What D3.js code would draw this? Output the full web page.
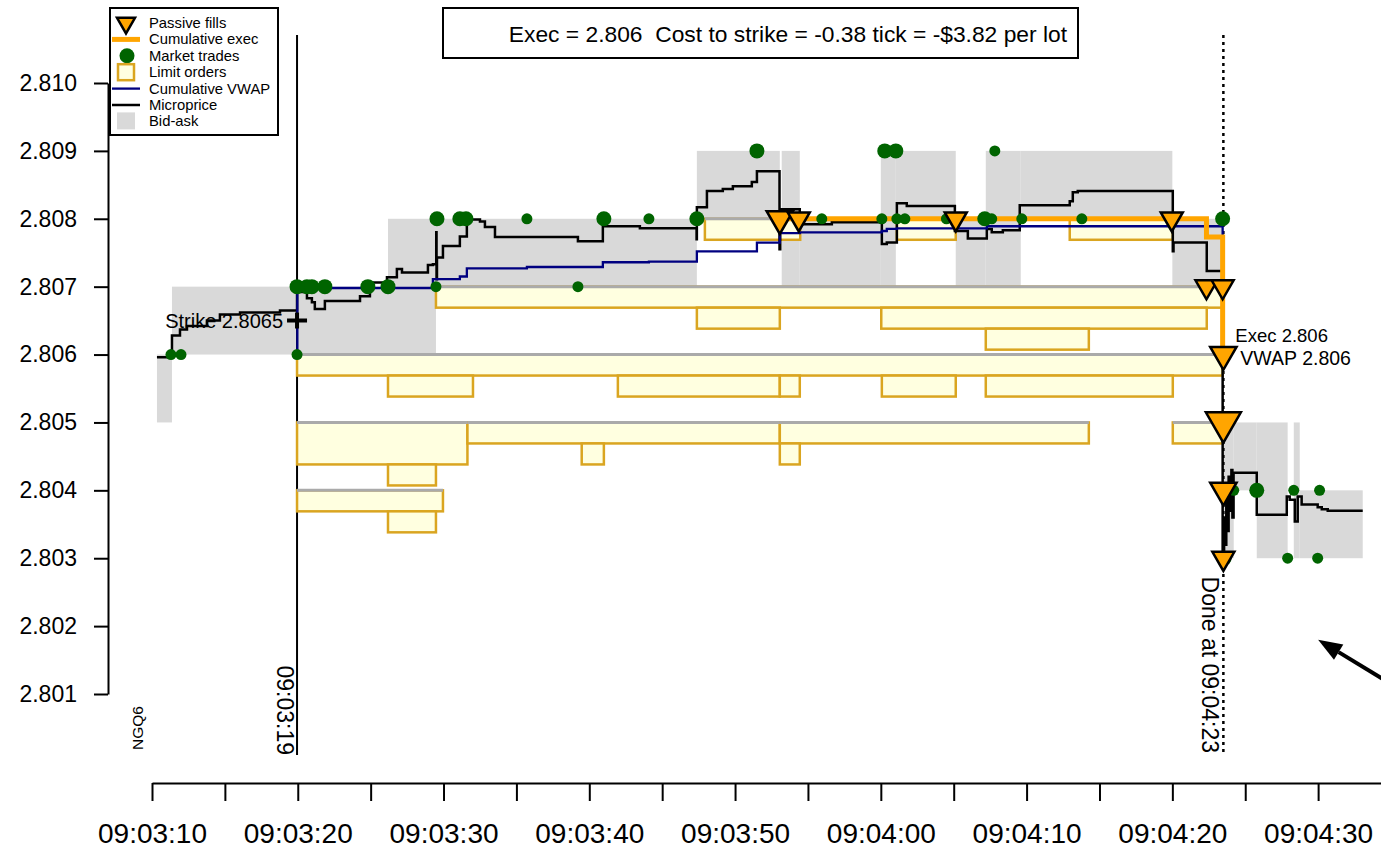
<!DOCTYPE html>
<html>
<head>
<meta charset="utf-8">
<script src="https://cdn.jsdelivr.net/npm/d3@7"></script>
<style>
body { margin: 0; background: #fff; }
text { font-family: "Liberation Sans", Arial, Helvetica, sans-serif; fill: #000; white-space: pre; }
</style>
</head>
<body>
<svg width="1381" height="852"></svg>
<script>
// all times are seconds after 09:03:00
const base = new Date(2016, 5, 20, 9, 3, 0);
const T = s => new Date(base.getTime() + s * 1000);

// bid-ask spells
const quoteStart = [10.34, 11.37, 26.19, 29.48, 47.38, 53.20, 54.44, 60.00, 61.03, 65.14, 67.20, 69.60, 80.00, 83.50, 84.21, 85.79, 88.33, 88.74];
const quoteEnd   = [11.37, 26.19, 29.48, 47.38, 53.07, 54.44, 60.00, 61.03, 65.14, 67.20, 69.60, 80.00, 83.45, 84.21, 85.79, 87.91, 88.74, 93.06];
const quoteBid   = [2.805, 2.806, 2.806, 2.807, 2.808, 2.807, 2.807, 2.807, 2.808, 2.807, 2.807, 2.808, 2.807, 2.803, 2.804, 2.803, 2.803, 2.803];
const quoteAsk   = [2.806, 2.807, 2.808, 2.808, 2.809, 2.809, 2.808, 2.809, 2.809, 2.808, 2.809, 2.809, 2.808, 2.805, 2.805, 2.805, 2.805, 2.804];

// microprice [t, price]
const microprice = [
  [10.34, 2.80596], [11.37, 2.80628], [11.92, 2.80637], [12.40, 2.80642], [13.77, 2.80650],
  [14.66, 2.80659], [16.04, 2.80662], [18.78, 2.80665], [19.95, 2.80692], [20.63, 2.80683],
  [20.97, 2.80677], [21.17, 2.80667], [21.86, 2.80679], [24.27, 2.80686], [24.95, 2.80706],
  [26.12, 2.80714], [26.80, 2.80726], [27.15, 2.80721], [28.93, 2.80732], [29.27, 2.80733],
  [29.50, 2.80780], [29.52, 2.80711], [29.55, 2.80743], [29.96, 2.80760], [31.12, 2.80774],
  [31.60, 2.80799], [32.50, 2.80796], [32.84, 2.80788], [33.53, 2.80773], [39.22, 2.80767],
  [40.93, 2.80789], [43.47, 2.80786], [47.36, 2.80770], [47.38, 2.80817], [48.07, 2.80841],
  [49.16, 2.80844], [49.85, 2.80848], [51.15, 2.80854], [51.50, 2.80870], [53.05, 2.80755],
  [53.10, 2.80814], [54.44, 2.80792], [56.64, 2.80795], [60.07, 2.80763], [60.41, 2.80765],
  [61.10, 2.80823], [61.78, 2.80819], [65.08, 2.80782], [65.97, 2.80771], [67.27, 2.80785],
  [67.61, 2.80780], [68.37, 2.80783], [69.53, 2.80820], [72.96, 2.80826], [73.17, 2.80839],
  [73.51, 2.80841], [80.03, 2.80752], [80.08, 2.80765], [82.36, 2.80723], [83.45, 2.80300],
  [83.55, 2.80360], [83.62, 2.80320], [83.70, 2.80400], [83.78, 2.80340], [83.86, 2.80420],
  [83.95, 2.80370], [84.05, 2.80430], [84.12, 2.80360], [84.20, 2.80426], [85.79, 2.80364],
  [87.85, 2.80391], [88.05, 2.80386], [88.40, 2.80354], [88.60, 2.80391], [88.87, 2.80379],
  [89.97, 2.80375], [90.25, 2.80372], [90.66, 2.80370], [93.06, 2.80370]
];

// cumulative vwap of market trades since start
const vwap = [
  [19.95, 2.80600], [19.97, 2.80698], [29.27, 2.80711], [31.12, 2.80715], [31.60, 2.80727],
  [35.72, 2.80729], [40.93, 2.80736], [44.09, 2.80737], [47.38, 2.80752], [51.50, 2.80765],
  [53.07, 2.80779], [54.44, 2.80780], [60.07, 2.80782], [60.41, 2.80785], [61.10, 2.80786],
  [67.27, 2.80789], [83.45, 2.80600]
];

// cumulative average exec price
const cumExec = [[53.07, 2.8080], [82.34, 2.80773], [83.45, 2.8060]];

// passive fills
const fillT   = [53.07, 54.37, 65.14, 79.96, 82.34, 83.45, 83.50, 83.50, 83.50, 83.50];
const fillPx  = [2.808, 2.808, 2.808, 2.808, 2.807, 2.807, 2.806, 2.805, 2.804, 2.803];
const fillQty = [2, 1, 1, 1, 1, 1, 2, 4, 2, 1];

// market trades
const tradeT   = [11.30, 11.99, 19.95, 19.95, 20.63, 20.97, 21.86, 24.81, 26.19, 29.48, 29.55, 31.12, 31.54, 35.72, 39.22, 41.00, 44.09, 47.38, 51.50, 55.95, 60.07, 60.27, 61.03, 61.10, 61.65, 64.50, 67.13, 67.61, 67.82, 69.67, 73.79, 83.45, 83.55, 84.21, 85.79, 88.33, 90.10, 83.55, 87.91, 89.97];
const tradePx  = [2.806, 2.806, 2.806, 2.807, 2.807, 2.807, 2.807, 2.807, 2.807, 2.807, 2.808, 2.808, 2.808, 2.808, 2.807, 2.808, 2.808, 2.808, 2.809, 2.808, 2.808, 2.809, 2.809, 2.808, 2.808, 2.808, 2.808, 2.808, 2.809, 2.808, 2.808, 2.808, 2.804, 2.804, 2.804, 2.804, 2.804, 2.803, 2.803, 2.803];
const tradeQty = [1, 1, 1, 2, 2, 2, 2, 2, 2, 1, 2, 2, 2, 1, 1, 2, 1, 2, 2, 1, 1, 2, 2, 1, 1, 1, 2, 1, 1, 1, 1, 2, 2, 1, 2, 1, 1, 2, 1, 1];

// limit order blocks: [start, end, price, queue from, queue to] (lots)
const limitOrders = [
  [47.93, 54.47, 2.808, 0, 1], [61.10, 65.14, 2.808, 0, 1], [72.96, 80.03, 2.808, 0, 1],
  [29.48, 83.45, 2.807, 0, 1], [47.38, 53.07, 2.807, 1, 2], [60.03, 82.36, 2.807, 1, 2], [67.20, 74.27, 2.807, 2, 3],
  [19.95, 83.45, 2.806, 0, 1], [26.19, 32.02, 2.806, 1, 2], [41.96, 53.07, 2.806, 1, 2], [53.07, 54.44, 2.806, 1, 2],
  [60.07, 65.14, 2.806, 1, 2], [67.20, 80.03, 2.806, 1, 2],
  [19.95, 31.64, 2.805, 0, 2], [31.64, 53.07, 2.805, 0, 1], [53.07, 74.27, 2.805, 0, 1], [39.48, 41.00, 2.805, 1, 2],
  [53.07, 54.44, 2.805, 1, 2], [26.19, 29.48, 2.805, 2, 3], [80.03, 83.45, 2.805, 0, 1],
  [19.95, 29.96, 2.804, 0, 1], [26.19, 29.48, 2.804, 1, 2]
];

const startT = 19.95, doneT = 83.5, strike = 2.8065;
const execPx = 2.806, vwapPx = 2.806;
const titleText = 'Exec = 2.806  Cost to strike = -0.38 tick = -$3.82 per lot';
const xTicks = d3.range(10, 96, 5);
const yTicks = d3.range(2.801, 2.8105, 0.001);
const legendLabels = ['Passive fills', 'Cumulative exec', 'Market trades', 'Limit orders', 'Cumulative VWAP', 'Microprice', 'Bid-ask'];

const svg = d3.select('svg');
svg.append('rect').attr('width', 1381).attr('height', 852).attr('fill', '#fff');

const x = d3.scaleTime().domain([T(10), T(95)]).range([152, 1391]);
const y = d3.scaleLinear().domain([2.801, 2.810]).range([694, 83]);
const depth = d3.scaleLinear().domain([0, 1]).range([0, 21]);
const dotR = d3.scaleLinear().domain([1, 2]).range([5.5, 7.5]);
const triW = d3.scaleLinear().domain([1, 4]).range([22, 35]);
const X = s => x(T(s));

const plotTop = 35, plotBottom = 755;

// down triangle with centroid on the point
function tri(cx, cy, w) {
  const h = w * Math.sqrt(3) / 2;
  return `M${cx - w / 2},${cy - h / 3}L${cx + w / 2},${cy - h / 3}L${cx},${cy + 2 * h / 3}Z`;
}

const g = svg.append('g');

// bid-ask
g.selectAll('rect.quote')
  .data(d3.range(quoteStart.length))
  .join('rect')
  .attr('class', 'quote')
  .attr('x', i => X(quoteStart[i]))
  .attr('width', i => X(quoteEnd[i]) - X(quoteStart[i]))
  .attr('y', i => y(quoteAsk[i]))
  .attr('height', i => y(quoteBid[i]) - y(quoteAsk[i]))
  .attr('fill', '#d9d9d9');

// start / done lines
g.append('line')
  .attr('x1', X(startT)).attr('x2', X(startT))
  .attr('y1', plotTop).attr('y2', plotBottom)
  .attr('stroke', '#000').attr('stroke-width', 2);
g.append('line')
  .attr('x1', X(doneT)).attr('x2', X(doneT))
  .attr('y1', plotTop).attr('y2', plotBottom)
  .attr('stroke', '#000').attr('stroke-width', 2.5)
  .attr('stroke-dasharray', '3,4');

// limit orders
g.selectAll('rect.lo')
  .data(limitOrders)
  .join('rect')
  .attr('class', 'lo')
  .attr('x', d => X(d[0]))
  .attr('width', d => X(d[1]) - X(d[0]))
  .attr('y', d => y(d[2]) + depth(d[3]))
  .attr('height', d => depth(d[4] - d[3]))
  .attr('fill', '#ffffe0')
  .attr('stroke', '#daa520')
  .attr('stroke-width', 2.5);

g.selectAll('line.level')
  .data(limitOrders.filter(d => d[3] === 0))
  .join('line')
  .attr('class', 'level')
  .attr('x1', d => X(d[0])).attr('x2', d => X(d[1]))
  .attr('y1', d => y(d[2])).attr('y2', d => y(d[2]))
  .attr('stroke', '#aaaaaa').attr('stroke-width', 3);

const step = d3.line().x(d => X(d[0])).y(d => y(d[1])).curve(d3.curveStepAfter);

g.append('path').attr('d', step(microprice))
  .attr('fill', 'none').attr('stroke', '#000').attr('stroke-width', 2.5);
g.append('path').attr('d', step(vwap))
  .attr('fill', 'none').attr('stroke', '#000080').attr('stroke-width', 2.3);
g.append('path').attr('d', step(cumExec))
  .attr('fill', 'none').attr('stroke', '#ffa500').attr('stroke-width', 5);

// market trades
g.selectAll('circle.trade')
  .data(d3.range(tradeT.length))
  .join('circle')
  .attr('class', 'trade')
  .attr('cx', i => X(tradeT[i]))
  .attr('cy', i => y(tradePx[i]))
  .attr('r', i => dotR(tradeQty[i]))
  .attr('fill', '#006400');

// passive fills
g.selectAll('path.fill')
  .data(d3.range(fillT.length))
  .join('path')
  .attr('class', 'fill')
  .attr('d', i => tri(X(fillT[i]), y(fillPx[i]), triW(fillQty[i])))
  .attr('fill', '#ffa500')
  .attr('stroke', '#000')
  .attr('stroke-width', 2.5)
  .attr('stroke-linejoin', 'miter');

// strike marker
const sx = X(startT), sy = y(strike);
g.append('path')
  .attr('d', `M${sx - 10},${sy}H${sx + 10}M${sx},${sy - 8}V${sy + 8}`)
  .attr('stroke', '#000').attr('stroke-width', 4);
g.append('text')
  .attr('x', sx - 14).attr('y', sy + 7)
  .attr('text-anchor', 'end').attr('font-size', 20)
  .text('Strike ' + strike);

g.append('text')
  .attr('x', X(doneT) + 12).attr('y', y(execPx) - 13)
  .attr('font-size', 18.5).text('Exec ' + execPx.toFixed(3));
g.append('text')
  .attr('x', X(doneT) + 17).attr('y', y(vwapPx) + 10)
  .attr('font-size', 19.5).text('VWAP ' + vwapPx.toFixed(3));

// vertical labels
g.append('text')
  .attr('transform', `translate(${sx - 20},${plotBottom}) rotate(90)`)
  .attr('text-anchor', 'end').attr('font-size', 23)
  .text('09:03:19');
g.append('text')
  .attr('transform', `translate(${X(doneT) - 21},${plotBottom - 2}) rotate(90)`)
  .attr('text-anchor', 'end').attr('font-size', 23)
  .text('Done at ' + d3.timeFormat('%H:%M:%S')(T(doneT)));
g.append('text')
  .attr('transform', `translate(143,750) rotate(-90)`)
  .attr('font-size', 15.5)
  .text('NGQ6');

// arrow pointing off chart
const arrTip = [X(90.0), y(2.8018)], arrTail = [X(98.6), y(2.80068)];
const ang = Math.atan2(arrTail[1] - arrTip[1], arrTail[0] - arrTip[0]);
const hl = 24, hw = 9;
const bx = arrTip[0] + hl * Math.cos(ang), by = arrTip[1] + hl * Math.sin(ang);
g.append('line')
  .attr('x1', bx).attr('y1', by).attr('x2', arrTail[0]).attr('y2', arrTail[1])
  .attr('stroke', '#000').attr('stroke-width', 4);
g.append('path')
  .attr('d', `M${arrTip[0]},${arrTip[1]}L${bx - hw * Math.sin(ang)},${by + hw * Math.cos(ang)}L${bx + hw * Math.sin(ang)},${by - hw * Math.cos(ang)}Z`)
  .attr('fill', '#000');

// axes
const xAxis = svg.append('g')
  .attr('transform', 'translate(0,783)')
  .call(d3.axisBottom(x)
    .tickValues(xTicks.map(T))
    .tickSize(18).tickSizeOuter(0).tickPadding(22)
    .tickFormat(d => d.getSeconds() % 10 === 0 ? d3.timeFormat('%H:%M:%S')(d) : ''));
xAxis.selectAll('text').attr('font-size', 28).attr('font-family', '"Liberation Sans", Arial, sans-serif').attr('fill', '#000');
xAxis.selectAll('line, path').attr('stroke', '#000').attr('stroke-width', 2);

const yAxis = svg.append('g')
  .attr('transform', 'translate(108,0)')
  .call(d3.axisLeft(y)
    .tickValues(yTicks)
    .tickSize(14).tickSizeOuter(0).tickPadding(17)
    .tickFormat(d3.format('.3f')));
yAxis.selectAll('text').attr('font-size', 23).attr('font-family', '"Liberation Sans", Arial, sans-serif').attr('fill', '#000');
yAxis.selectAll('line, path').attr('stroke', '#000').attr('stroke-width', 2);

// title box
svg.append('rect')
  .attr('x', 443).attr('y', 8).attr('width', 635).attr('height', 50)
  .attr('fill', '#fff').attr('stroke', '#000').attr('stroke-width', 2);
svg.append('text')
  .attr('x', 1067).attr('y', 42)
  .attr('text-anchor', 'end').attr('font-size', 22.8)
  .attr('xml:space', 'preserve')
  .text(titleText);

// legend
const lg = svg.append('g');
lg.append('rect')
  .attr('x', 110).attr('y', 8).attr('width', 168).attr('height', 127)
  .attr('fill', '#fff').attr('stroke', '#000').attr('stroke-width', 2);
const rowY = i => 23 + i * 16.4;
lg.selectAll('text')
  .data(legendLabels)
  .join('text')
  .attr('x', 149).attr('y', (d, i) => rowY(i) + 5)
  .attr('font-size', 14.8)
  .text(d => d);
lg.append('path').attr('d', tri(126, rowY(0), 18))
  .attr('fill', '#ffa500').attr('stroke', '#000').attr('stroke-width', 2.5);
lg.append('line').attr('x1', 112).attr('x2', 140).attr('y1', rowY(1)).attr('y2', rowY(1))
  .attr('stroke', '#ffa500').attr('stroke-width', 5);
lg.append('circle').attr('cx', 127).attr('cy', rowY(2)).attr('r', 7.5).attr('fill', '#006400');
lg.append('rect').attr('x', 118).attr('y', rowY(3) - 8).attr('width', 16).attr('height', 16)
  .attr('fill', '#ffffe0').attr('stroke', '#daa520').attr('stroke-width', 2.5);
lg.append('line').attr('x1', 112).attr('x2', 140).attr('y1', rowY(4)).attr('y2', rowY(4))
  .attr('stroke', '#000080').attr('stroke-width', 2.3);
lg.append('line').attr('x1', 112).attr('x2', 140).attr('y1', rowY(5)).attr('y2', rowY(5))
  .attr('stroke', '#000').attr('stroke-width', 2.5);
lg.append('rect').attr('x', 117).attr('y', rowY(6) - 9).attr('width', 18).attr('height', 17)
  .attr('fill', '#d9d9d9');
</script>
</body>
</html>
